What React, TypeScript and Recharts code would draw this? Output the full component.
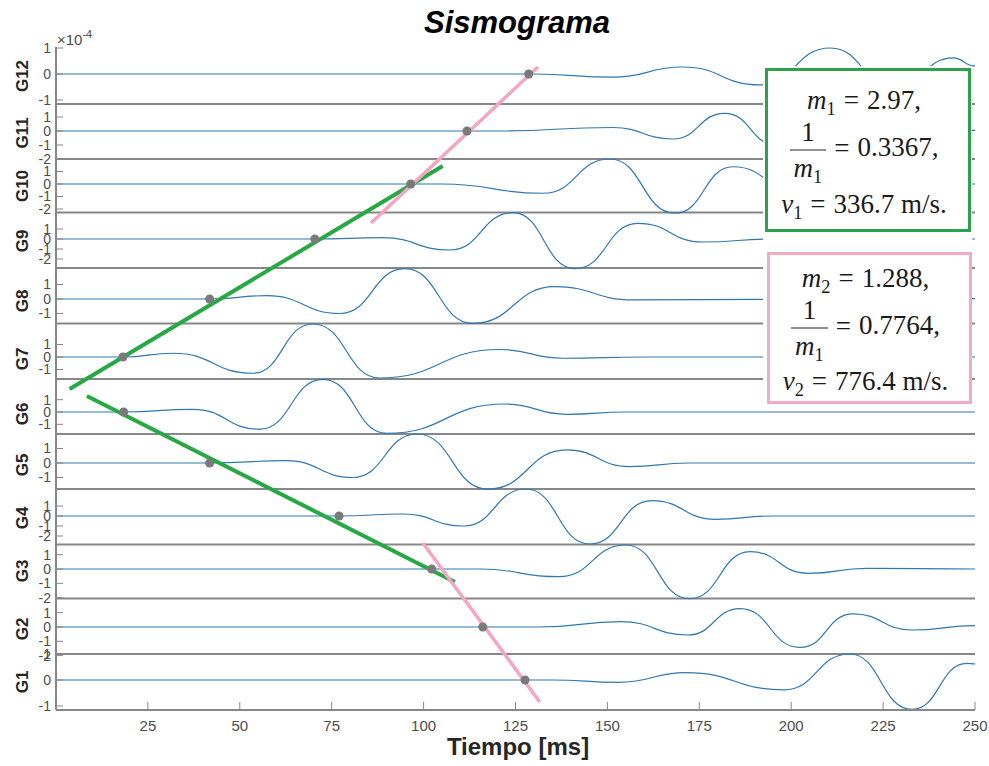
import React from "react";
import { ComposedChart, Line, Scatter, XAxis, YAxis, ReferenceLine } from "recharts";

type Pt = [number, number];

// trazas: extremos leidos [tiempo ms, amplitud x1e-4]
const G1: Pt[] = [[0, 0], [135, 0], [153.1, -0.09], [171.4, 0.28], [198, -0.38], [215.9, 1.0], [232.9, -1.13], [247.8, 0.64], [250, 0.62]];
const G2: Pt[] = [[0, 0], [131.6, 0], [153.7, 0.37], [171.9, -0.56], [186.1, 1.29], [202.4, -1.43], [216.8, 0.92], [232.9, -0.21], [250, 0.1]];
const G3: Pt[] = [[0, 0], [115.3, 0], [136.8, -0.54], [155, 1.68], [172.4, -2.08], [188.8, 1.21], [204.6, -0.3], [220.6, 0.05], [250, 0]];
const G4: Pt[] = [[0, 0], [77, 0], [94.4, 0.2], [110.9, -1.0], [127.8, 2.7], [145.2, -2.8], [162.1, 1.53], [179.4, -0.33], [195, 0], [250, 0]];
const G5: Pt[] = [[0, 0], [41.8, 0], [62.7, 0.16], [80.7, -1.0], [98.2, 2.0], [117.5, -1.8], [139, 0.9], [156, -0.25], [172, 0], [250, 0]];
const G6: Pt[] = [[0, 0], [18.4, 0], [37.2, 0.22], [55.4, -1.4], [72.6, 2.66], [90, -1.73], [122.1, 0.65], [139, -0.19], [155, 0], [250, 0]];
const G7: Pt[] = [[0, 0], [18.2, 0], [32, 0.3], [53.5, -1.3], [69.9, 2.64], [88.1, -1.68], [120.7, 0.6], [138, -0.1], [160, 0], [250, 0]];
const G8: Pt[] = [[0, 0], [41.8, 0], [57.4, 0.23], [77.2, -1.0], [94.9, 2.09], [113.4, -1.68], [135.7, 0.85], [157, -0.06], [250, 0.02]];
const G9: Pt[] = [[0, 0], [70.4, 0], [88.9, 0.13], [107.1, -1.1], [124.3, 2.63], [141.2, -2.97], [158.3, 1.57], [176, -0.3], [195, 0], [250, 0]];
const G10: Pt[] = [[0, 0], [105, 0], [132.5, -0.74], [150.7, 2.0], [168.4, -2.34], [184.2, 1.38], [203, -0.9], [220, 0.3], [235, 0], [250, 0]];
const G11: Pt[] = [[0, 0], [120, 0], [151.5, 0.25], [167.8, -0.57], [181.9, 1.26], [196, -1.0], [215, 0.4], [235, 0], [250, 0.05]];
const G12: Pt[] = [[0, 0], [130, 0], [151.5, -0.12], [170.5, 0.27], [191.5, -0.42], [210.6, 1.0], [228.2, -0.54], [244, 0.62], [250, 0.31]];

const TRACES = [G1, G2, G3, G4, G5, G6, G7, G8, G9, G10, G11, G12];
const NAMES = ["G1", "G2", "G3", "G4", "G5", "G6", "G7", "G8", "G9", "G10", "G11", "G12"];

// primeras llegadas (ms)
const PICKS = [127.6, 116.1, 102.2, 77.0, 41.8, 18.4, 18.2, 41.8, 70.4, 96.5, 111.8, 128.6];

const Y_LABELS: number[][] = [
  [1, 0, -1], [1, 0, -1, -2], [1, 0, -1, -2], [1, 0, -1, -2], [1, 0, -1], [1, 0, -1],
  [1, 0, -1], [1, 0, -1], [1, 0, -1, -2], [1, 0, -1, -2], [1, 0, -1, -2], [1, 0, -1],
];
const X_TICKS = [25, 50, 75, 100, 125, 150, 175, 200, 225, 250];

// rectas de ajuste (tiempo, posicion en la pila)
const FIT_GREEN_UP: Pt[] = [[3.7, 321], [105.2, 544]];
const FIT_GREEN_DOWN: Pt[] = [[8.4, 314], [108.5, 128]];
const FIT_PINK_UP: Pt[] = [[85.7, 487], [131.1, 643]];
const FIT_PINK_DOWN: Pt[] = [[99.8, 167], [131.6, 8]];

// layout of the stacked panels
const ZERO = [30, 83, 141, 194, 247, 298, 353, 411, 471, 526, 579, 636];
const GAIN = [26, 14.3, 14.3, 10, 14.5, 12.3, 12.5, 14.5, 10, 12.5, 14, 26];
const SEPARATORS = [56, 111.5, 165.5, 221, 276, 331, 386.5, 442, 497.5, 551, 606];

const SANS = '"Liberation Sans", Arial, sans-serif';
const SERIF = '"Liberation Serif", "Times New Roman", serif';
const BLUE = "#2f78b2";
const GRAY = "#878787";
const TXT = "#4d4d4d";

const traceData = TRACES.map((tr, i) => tr.map(([t, a]) => ({ t, v: ZERO[i] + GAIN[i] * a })));
const pickData = PICKS.map((t, i) => ({ t, v: ZERO[i] }));
const toRows = (pts: Pt[]) => pts.map(([t, v]) => ({ t, v }));

const yTicks: number[] = [];
const yTickInfo = new Map<string, { label: number; panel: number }>();
Y_LABELS.forEach((labs, i) =>
  labs.forEach((l) => {
    const v = ZERO[i] + GAIN[i] * l;
    yTicks.push(v);
    yTickInfo.set(v.toFixed(2), { label: l, panel: i });
  })
);

const YTick = (props: any) => {
  const { x, y, payload } = props;
  const info = yTickInfo.get(Number(payload.value).toFixed(2));
  if (!info) return null;
  return (
    <g>
      <line x1={x + 8} x2={x + 15} y1={y} y2={y} stroke={GRAY} strokeWidth={1} />
      <text x={x + 3} y={y} dy="0.35em" textAnchor="end" fontSize={14} fill={TXT} fontFamily={SANS}>
        {info.label}
      </text>
      {info.label === 0 && (
        <text
          x={x - 26}
          y={y + 2}
          transform={`rotate(-90 ${x - 26} ${y + 2})`}
          textAnchor="middle"
          dy="0.35em"
          fontSize={17}
          fontWeight="bold"
          fill="#262626"
          fontFamily={SANS}
        >
          {NAMES[info.panel]}
        </text>
      )}
    </g>
  );
};

const XTick = (props: any) => {
  const { x, y, payload } = props;
  return (
    <g>
      <line x1={x} x2={x} y1={y} y2={y - 8} stroke={GRAY} strokeWidth={1} />
      <text x={x} y={y + 21} textAnchor="middle" fontSize={15} fill={TXT} fontFamily={SANS}>
        {payload.value}
      </text>
    </g>
  );
};

function Sub({ v, n }: { v: string; n: string }) {
  return (
    <span>
      <i>{v}</i>
      <span style={{ fontSize: "0.68em", position: "relative", top: "0.3em" }}>{n}</span>
    </span>
  );
}

const Eq = () => <span style={{ margin: "0 8px" }}>=</span>;

function Frac() {
  return (
    <span style={{ display: "inline-flex", flexDirection: "column", alignItems: "center", verticalAlign: "middle" }}>
      <span style={{ lineHeight: 1, paddingBottom: 4 }}>1</span>
      <span style={{ borderTop: "1.5px solid #222", lineHeight: 1, padding: "4px 4px 0" }}>
        <Sub v="m" n="1" />
      </span>
    </span>
  );
}

const row = (top: number): React.CSSProperties => ({
  position: "absolute",
  left: 0,
  right: 8,
  top,
  transform: "translateY(-50%)",
  textAlign: "center",
  whiteSpace: "nowrap",
  lineHeight: 1,
});

export default function App() {
  return (
    <div style={{ position: "absolute", left: 0, top: 0, width: 989, height: 766, background: "#fff", overflow: "hidden" }}>
      <div style={{ position: "absolute", left: 0, width: 1034, top: 7, textAlign: "center", fontFamily: SANS, fontSize: 31, fontWeight: "bold", fontStyle: "italic", lineHeight: "31px", color: "#000" }}>
        Sismograma
      </div>
      <div style={{ position: "absolute", left: 57, top: 32, fontFamily: SANS, fontSize: 15, color: TXT, lineHeight: "15px" }}>
        ×10<span style={{ fontSize: 11, position: "relative", top: -7 }}>-4</span>
      </div>
      <ComposedChart width={989} height={766} margin={{ top: 47, right: 14, left: 0, bottom: 0 }}>
        <XAxis
          dataKey="t"
          type="number"
          domain={[0, 250]}
          ticks={X_TICKS}
          interval={0}
          height={56}
          tickSize={0}
          tickMargin={0}
          tickLine={false}
          tick={<XTick />}
          axisLine={{ stroke: GRAY, strokeWidth: 2 }}
          allowDataOverflow
        />
        <YAxis
          type="number"
          domain={[0, 663]}
          ticks={yTicks}
          interval={0}
          width={56}
          tickSize={8}
          tickMargin={0}
          tickLine={false}
          tick={<YTick />}
          axisLine={{ stroke: GRAY, strokeWidth: 2 }}
          allowDataOverflow
        />
        {SEPARATORS.map((s) => (
          <ReferenceLine key={s} y={s} stroke={GRAY} strokeWidth={2} />
        ))}
        {traceData.map((d, i) => (
          <Line key={NAMES[i]} data={d} dataKey="v" type="bumpX" stroke={BLUE} strokeWidth={1.2} dot={false} isAnimationActive={false} />
        ))}
        <Line data={toRows(FIT_GREEN_UP)} dataKey="v" type="linear" stroke="#27a844" strokeWidth={4} dot={false} isAnimationActive={false} />
        <Line data={toRows(FIT_GREEN_DOWN)} dataKey="v" type="linear" stroke="#27a844" strokeWidth={4} dot={false} isAnimationActive={false} />
        <Line data={toRows(FIT_PINK_UP)} dataKey="v" type="linear" stroke="#f4a5c3" strokeWidth={3.5} dot={false} isAnimationActive={false} />
        <Line data={toRows(FIT_PINK_DOWN)} dataKey="v" type="linear" stroke="#f4a5c3" strokeWidth={3.5} dot={false} isAnimationActive={false} />
        <Scatter data={pickData} dataKey="v" fill="#7a7a7a" isAnimationActive={false} />
      </ComposedChart>
      <div style={{ position: "absolute", left: 0, width: 1036, top: 735, textAlign: "center", fontFamily: SANS, fontSize: 24, fontWeight: "bold", lineHeight: "24px", color: "#262626" }}>
        Tiempo [ms]
      </div>
      <div style={{ position: "absolute", left: 763, top: 66, width: 209, height: 340, background: "#fff" }} />
      <div style={{ position: "absolute", left: 765, top: 68, width: 206, height: 164, boxSizing: "border-box", border: "3px solid #2ca24a", fontFamily: SERIF, fontSize: 27, color: "#1a1a1a" }}>
        <div style={row(29)}>
          <Sub v="m" n="1" /><Eq />2.97,
        </div>
        <div style={row(79)}>
          <Frac /><Eq />0.3367,
        </div>
        <div style={row(133)}>
          <Sub v="v" n="1" /><Eq />336.7 m/s.
        </div>
      </div>
      <div style={{ position: "absolute", left: 767, top: 252, width: 205, height: 152, boxSizing: "border-box", border: "3px solid #f2aac6", fontFamily: SERIF, fontSize: 27, color: "#1a1a1a" }}>
        <div style={row(23)}>
          <Sub v="m" n="2" /><Eq />1.288,
        </div>
        <div style={row(73)}>
          <Frac /><Eq />0.7764,
        </div>
        <div style={row(126)}>
          <Sub v="v" n="2" /><Eq />776.4 m/s.
        </div>
      </div>
    </div>
  );
}
